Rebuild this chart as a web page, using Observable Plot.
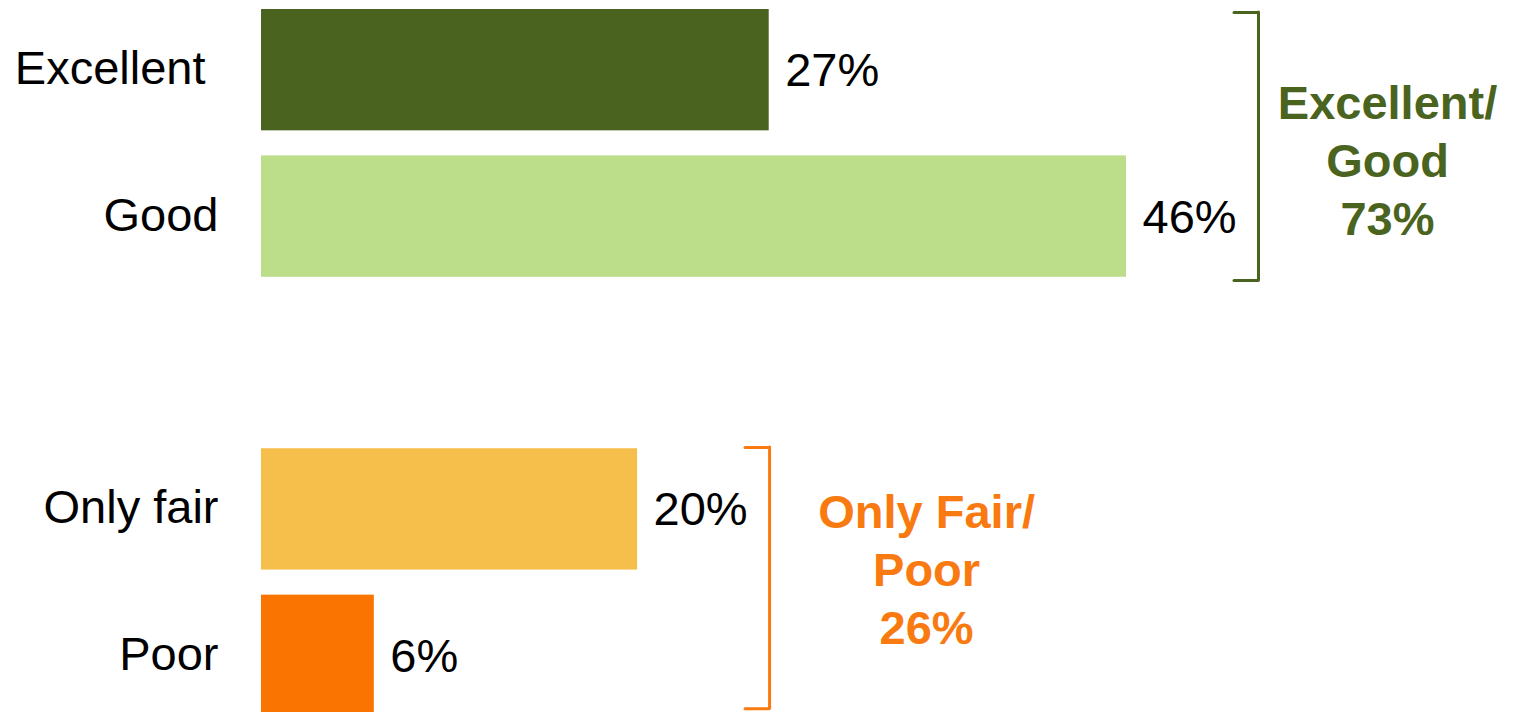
<!DOCTYPE html>
<html><head><meta charset="utf-8">
<script src="https://cdn.jsdelivr.net/npm/d3@7"></script>
<script src="https://cdn.jsdelivr.net/npm/@observablehq/plot@0.6"></script>
<style>html,body{margin:0;padding:0;background:#fff} svg{display:block}</style>
</head><body><div id="chart"></div>
<script>
// ---- data ----
const categories = ["Excellent", "Good", "Only fair", "Poor"];
const values = [27, 46, 20, 6];
const barColors = ["#4a6420", "#bcde8a", "#f6be4b", "#f97400"];
const spacer = " "; // empty row between the two groups
const groupNames = ["Excellent/\nGood", "Only Fair/\nPoor"];
const groupMembers = [["Excellent", "Good"], ["Only fair", "Poor"]];
const groupTotals = [73, 26];
const groupColors = ["#4a6420", "#f97a10"];

// ---- layout (pixel offsets, not data) ----
const labelDx = [-56, -43, -43, -43];
const groupLayout = [
  {labelDx: 261, labelDy: 88, topDy: -57.6, bottomDy: 64, insetTop: 3, insetBottom: -3.3},
  {labelDx: 289, labelDy: 58, topDy: -61.8, bottomDy: 52.8, insetTop: -1.2, insetBottom: 7.9}
];

const rows = categories.map((c, i) => ({category: c, value: values[i]}));
const valueOf = (c) => values[categories.indexOf(c)];
const groups = groupNames.map((g, i) => ({
  label: g + "\n" + groupTotals[i] + "%",
  first: groupMembers[i][0],
  last: groupMembers[i][groupMembers[i].length - 1],
  max: d3.max(groupMembers[i], valueOf)
}));

const font = "'Liberation Sans', Arial, sans-serif";

const groupMarks = groups.flatMap((g, i) => {
  const L = groupLayout[i];
  const st = {stroke: groupColors[i], strokeWidth: 3, strokeLinecap: "round"};
  return [
    Plot.ruleX([g], {x: "max", y1: "first", y2: "last", dx: 132, insetTop: L.insetTop, insetBottom: L.insetBottom, ...st}),
    Plot.ruleY([g], {y: "first", x1: "max", x2: "max", insetLeft: 108, insetRight: -132, dy: L.topDy, ...st}),
    Plot.ruleY([g], {y: "last", x1: "max", x2: "max", insetLeft: 108, insetRight: -132, dy: L.bottomDy, ...st}),
    Plot.text([g], {x: "max", y: "first", text: "label", dx: L.labelDx, dy: L.labelDy,
      textAnchor: "middle", lineHeight: 1.234, fontSize: 47, fontWeight: "bold", fill: groupColors[i]})
  ];
});

const labelMarks = rows.map((r, i) =>
  Plot.text([r], {x: 0, y: "category", text: "category", textAnchor: "end", dx: labelDx[i], dy: -1, fontSize: 47, fill: "black"})
);

const chart = Plot.plot({
  width: 1513,
  height: 712,
  margin: 0,
  style: {fontFamily: font, background: "white", color: "black"},
  x: {domain: [0, 46], range: [261, 1126], axis: null},
  y: {domain: [categories[0], categories[1], spacer, categories[2], categories[3]],
      range: [9, 716], paddingInner: 0.1712, paddingOuter: 0, round: false, axis: null},
  color: {domain: categories, range: barColors},
  marks: [
    Plot.barX(rows, {x: "value", y: "category", fill: "category"}),
    ...labelMarks,
    Plot.text(rows, {x: "value", y: "category", text: d => d.value + "%", textAnchor: "start", dx: 16, dy: 1, fontSize: 47, fill: "black"}),
    ...groupMarks
  ]
});
document.getElementById("chart").appendChild(chart);
</script>
</body></html>
